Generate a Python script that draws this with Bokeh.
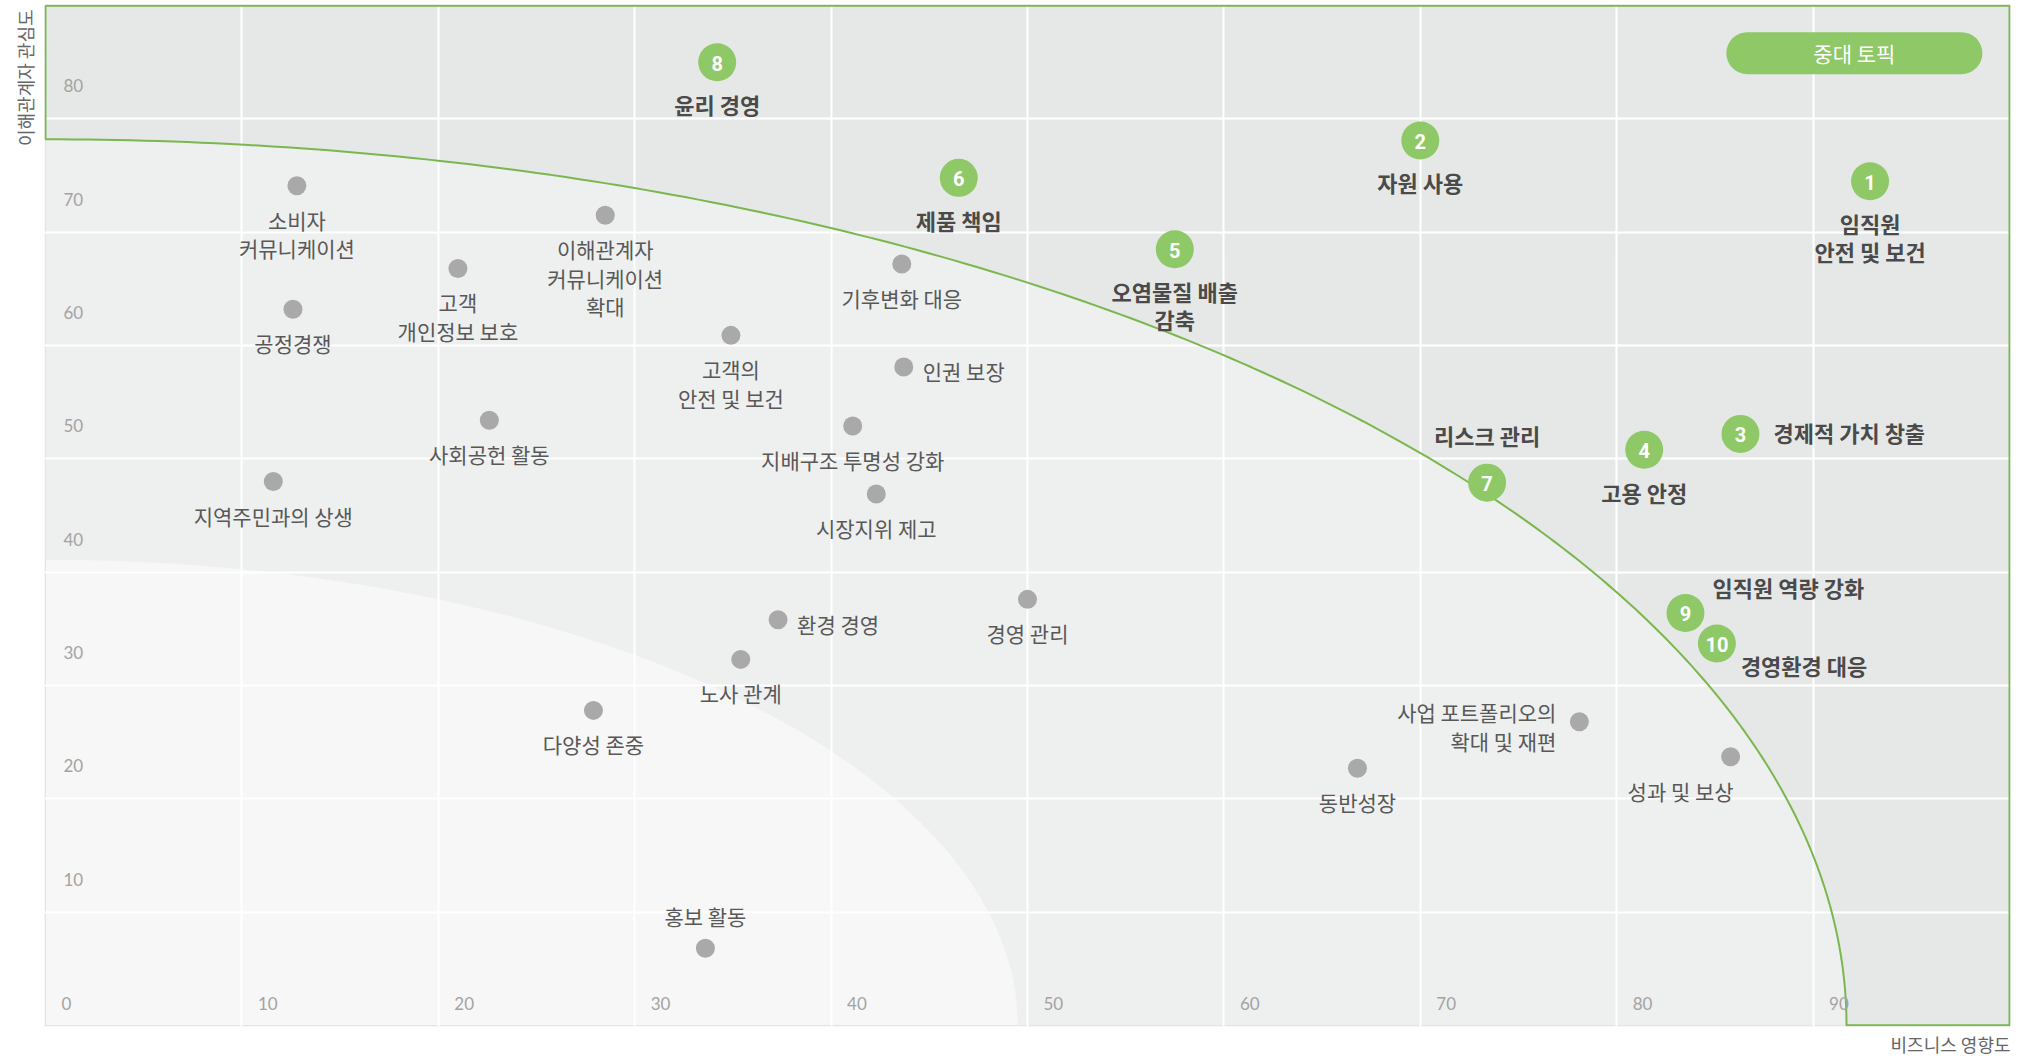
import numpy as np
from bokeh.plotting import figure
from bokeh.models import Range1d, Grid, FixedTicker, Title
from bokeh.core.properties import value
from bokeh.embed import file_html
from bokeh.resources import INLINE

# ---------------- data ----------------
x_ticks = [0, 10, 20, 30, 40, 50, 60, 70, 80, 90]
x_tick_labels = ["0", "10", "20", "30", "40", "50", "60", "70", "80", "90"]
y_ticks = [10, 20, 30, 40, 50, 60, 70, 80]
y_tick_labels = ["10", "20", "30", "40", "50", "60", "70", "80"]

x_title = "비즈니스 영향도"
y_title = "이해관계자 관심도"
legend_text = "중대 토픽"

# material-topic boundary (quarter ellipse) and inner low-priority zone
boundary_a, boundary_b = 91.7, 78.2
inner_a, inner_b = 49.5, 41.1

minor_topics = [
    "소비자\n커뮤니케이션", "공정경쟁", "고객\n개인정보 보호", "이해관계자\n커뮤니케이션\n확대",
    "고객의\n안전 및 보건", "기후변화 대응", "인권 보장", "사회공헌 활동",
    "지배구조 투명성 강화", "지역주민과의 상생", "시장지위 제고", "경영 관리",
    "환경 경영", "노사 관계", "다양성 존중", "홍보 활동",
    "사업 포트폴리오의\n확대 및 재편", "동반성장", "성과 및 보상",
]
minor_x = [12.8, 12.6, 21.0, 28.5, 34.9, 43.6, 43.7, 22.6, 41.1, 11.6, 42.3, 50.0,
           37.3, 35.4, 27.9, 33.6, 78.1, 66.8, 85.8]
minor_y = [74.1, 63.2, 66.8, 71.5, 60.9, 67.2, 58.1, 53.4, 52.9, 48.0, 46.9, 37.6,
           35.8, 32.3, 27.8, 6.8, 26.8, 22.7, 23.7]
minor_side = ["below", "below", "below", "below", "below", "below", "right", "below",
              "below", "below", "below", "below", "right", "below", "below", "above",
              "left", "below", "belowleft"]

major_ids = ["1", "2", "3", "4", "5", "6", "7", "8", "9", "10"]
major_topics = ["임직원\n안전 및 보건", "자원 사용", "경제적 가치 창출", "고용 안정",
                "오염물질 배출\n감축", "제품 책임", "리스크 관리", "윤리 경영",
                "임직원 역량 강화", "경영환경 대응"]
major_x = [92.9, 70.0, 86.3, 81.4, 57.5, 46.5, 73.4, 34.2, 83.5, 85.1]
major_y = [74.5, 78.1, 52.2, 50.8, 68.5, 74.8, 47.9, 85.0, 36.4, 33.7]
major_side = ["below", "below", "right", "below", "below", "below", "above", "below",
              "aboveright", "belowright"]

# ---------------- styles ----------------
GREEN = "#8fc866"
LINE_GREEN = "#7ab74f"
OUTER = "#e6e8e7"
MIDDLE = "#eeefef"
INNER = "#f6f7f6"
GREY_DOT = "#a9a9a9"
KR = value("Noto Sans CJK KR")

X_MIN, X_MAX = 0, 100
Y_MIN, Y_MAX = 0, 90

p = figure(width=2016, height=1062,
           x_range=Range1d(X_MIN - 0.05, X_MAX + 0.05),
           y_range=Range1d(Y_MIN - 0.1, Y_MAX + 0.1),
           x_axis_location=None, y_axis_location=None,
           toolbar_location=None, output_backend="svg",
           min_border_left=44, min_border_right=6, min_border_top=4, min_border_bottom=36,
           background_fill_color=MIDDLE, border_fill_color="white",
           outline_line_color=None)

# regions
t = np.linspace(0, np.pi / 2, 200)
ex = boundary_a * np.cos(t)
ey = boundary_b * np.sin(t)
outer_x = [X_MIN, X_MAX, X_MAX] + list(ex) + [X_MIN]
outer_y = [Y_MAX, Y_MAX, Y_MIN] + list(ey) + [Y_MAX]
p.patch(outer_x, outer_y, fill_color=OUTER, line_color=None, level="image")

ix = inner_a * np.cos(t)
iy = inner_b * np.sin(t)
inner_x = [X_MIN] + list(ix) + [X_MIN]
inner_y = [Y_MIN] + list(iy) + [Y_MIN]
p.patch(inner_x, inner_y, fill_color=INNER, line_color=None, level="image")

# grid
p.add_layout(Grid(dimension=0, ticker=FixedTicker(ticks=x_ticks[1:]),
                  grid_line_color="white", grid_line_width=2))
p.add_layout(Grid(dimension=1, ticker=FixedTicker(ticks=y_ticks),
                  grid_line_color="white", grid_line_width=2))

# green outline of material-topic zone
p.line(outer_x, outer_y, line_color=LINE_GREEN, line_width=2)

# tick labels inside the plot
p.text(x=x_ticks, y=[Y_MIN] * len(x_ticks), text=x_tick_labels,
       x_offset=16, y_offset=-22, text_align="left", text_baseline="middle",
       text_font=value("Lato"), text_font_size="17px", text_color="#a3a3a3")
p.text(x=[X_MIN] * len(y_ticks), y=y_ticks, text=y_tick_labels,
       x_offset=18, y_offset=-33, text_align="left", text_baseline="middle",
       text_font=value("Lato"), text_font_size="17px", text_color="#a3a3a3")


def placements(texts, sides, below, above, lh):
    dx, dy, al = [], [], []
    for txt, s in zip(texts, sides):
        n = txt.count("\n") + 1
        half = (n - 1) * lh / 2
        if s == "below":
            dx.append(0); dy.append(below + half); al.append("center")
        elif s == "above":
            dx.append(0); dy.append(-above - half); al.append("center")
        elif s == "right":
            dx.append(19); dy.append(4); al.append("left")
        elif s == "left":
            dx.append(-23); dy.append(5); al.append("right")
        elif s == "belowleft":
            dx.append(3); dy.append(below + half); al.append("right")
        elif s == "aboveright":
            dx.append(27); dy.append(-26); al.append("left")
        elif s == "belowright":
            dx.append(24); dy.append(21); al.append("left")
    return dx, dy, al


LH = 28.3
mdx, mdy, mal = placements(minor_topics, minor_side, 34, 32, LH)
minor_src = dict(x=minor_x, y=minor_y, text=minor_topics, dx=mdx, dy=mdy, al=mal)
p.text(x="x", y="y", text="text", x_offset="dx", y_offset="dy", text_align="al",
       source=minor_src, text_baseline="middle", text_font=KR, text_font_size="21px",
       text_color="#585858", text_line_height=0.96)

gdx, gdy, gal = placements(major_topics, major_side, 42, 48, LH)
gdx = [33 if s == "right" else d for s, d in zip(major_side, gdx)]
gdy = [-2 if s == "right" else d for s, d in zip(major_side, gdy)]
major_src = dict(x=major_x, y=major_y, text=major_topics, dx=gdx, dy=gdy, al=gal)
p.text(x="x", y="y", text="text", x_offset="dx", y_offset="dy", text_align="al",
       source=major_src, text_baseline="middle", text_font=KR, text_font_size="22px",
       text_font_style="bold", text_color="#4a4a4a", text_line_height=0.88)

# points
p.scatter(minor_x, minor_y, size=19, fill_color=GREY_DOT, line_color=None)
p.scatter(major_x, major_y, size=38, fill_color=GREEN, line_color=None)
p.text(major_x, major_y, text=major_ids, text_align="center", text_baseline="middle",
       y_offset=1, text_font=value("Roboto"), text_font_style="bold",
       text_font_size="20px", text_color="white")

# legend pill (top right)
leg_cx, leg_cy, leg_half = 92.1, 85.8, 5.45
p.line([leg_cx - leg_half, leg_cx + leg_half], [leg_cy, leg_cy], line_color=GREEN,
       line_width=42, line_cap="round")
p.text([leg_cx], [leg_cy], text=[legend_text], text_align="center", text_baseline="middle",
       text_font=KR, text_font_size="21px", text_color="white")

# axis titles
p.add_layout(Title(text=y_title, align="right", text_font="Noto Sans CJK KR",
                   text_font_size="18px", text_font_style="normal",
                   text_color="#666666", standoff=13, offset=5), "left")
p.add_layout(Title(text=x_title, align="right", text_font="Noto Sans CJK KR",
                   text_font_size="18px", text_font_style="normal",
                   text_color="#666666", standoff=5), "below")

with open("out.html", "w") as f:
    f.write(file_html(p, INLINE))
